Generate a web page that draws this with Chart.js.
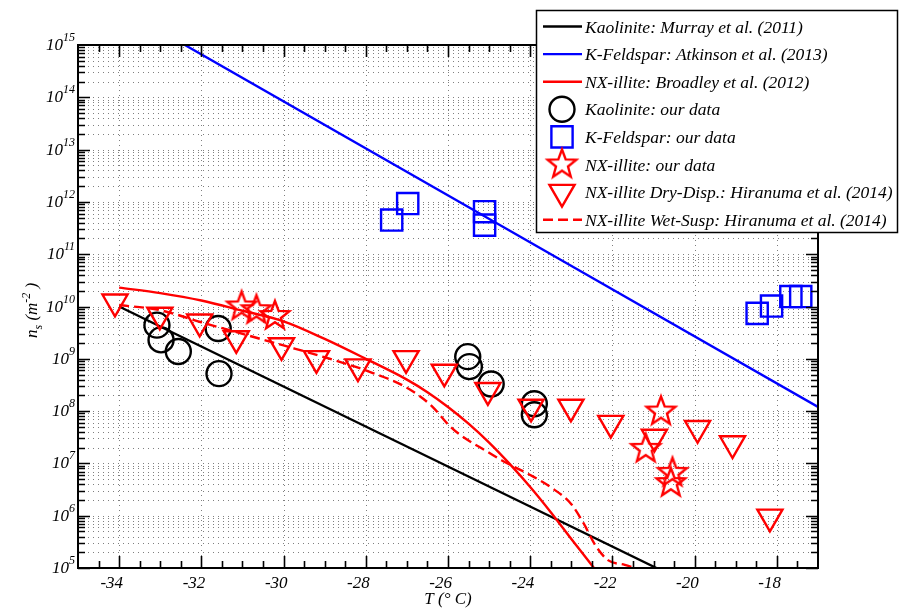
<!DOCTYPE html>
<html>
<head>
<meta charset="utf-8">
<script src="https://cdn.jsdelivr.net/npm/chart.js@4"></script>
<style>
html, body { margin: 0; padding: 0; background: #fff; }
#wrap { width: 899px; height: 608px; }
</style>
</head>
<body>
<div id="wrap"><canvas id="myChart" width="899" height="608"></canvas></div>
<script>
// axis ticks
const X_TICKS = [-34, -32, -30, -28, -26, -24, -22, -20, -18];
const Y_DECADES = [5, 6, 7, 8, 9, 10, 11, 12, 13, 14, 15];

// parameterisations (lines)
const KAO_LINE_T = [-34, -20.93];
const KAO_LINE_NS = [1e10, 1e5];
const KFS_LINE_T = [-32.4, -17];
const KFS_LINE_NS = [1e15, 1.2e8];
const BROADLEY_T = [-34, -33, -32, -31, -30, -29, -28, -27, -26.5, -26, -25.5, -25, -24.5, -24, -23.5, -23, -22.45];
const BROADLEY_NS = [2.3e10, 1.8e10, 1.3e10, 8.3e9, 5.2e9, 2.4e9, 1.0e9, 4.0e8, 2.3e8, 1.2e8, 5.75e7, 2.5e7, 9.8e6, 3.55e6, 1.17e6, 3.6e5, 1e5];
const WET_T = [-34, -33, -32, -31, -30, -29, -28, -27, -26.4, -26, -25.7, -25, -24.7, -24, -23.5, -23, -22.7, -22.4, -22.1, -21.7, -21.45];
const WET_NS = [1.07e10, 8.5e9, 5.0e9, 3.0e9, 1.8e9, 1.07e9, 6.0e8, 2.8e8, 1.26e8, 5.6e7, 3.5e7, 1.6e7, 1.15e7, 6.0e6, 3.5e6, 1.66e6, 7.1e5, 2.6e5, 1.4e5, 1.15e5, 1e5];

// our data
const KAO_T = [-33.08, -32.98, -32.56, -31.59, -31.57, -25.52, -25.48, -24.95, -23.9, -23.9];
const KAO_NS = [4.4e9, 2.3e9, 1.38e9, 3.8e9, 5.2e8, 1.1e9, 7.1e8, 3.3e8, 1.38e8, 8.5e7];
const KFS_T = [-27.37, -26.98, -25.11, -25.11, -18.48, -18.13, -17.66, -17.42];
const KFS_NS = [4.5e11, 9.3e11, 6.5e11, 3.6e11, 7.4e9, 1.02e10, 1.55e10, 1.55e10];
const NX_T = [-31.02, -30.66, -30.21, -20.82, -21.19, -20.54, -20.58];
const NX_NS = [1.0e10, 8.5e9, 6.6e9, 9.8e7, 1.9e7, 6.6e6, 4.2e6];
const DRY_T = [-34.1, -33.01, -32.04, -31.15, -30.05, -29.2, -28.19, -27.02, -26.09, -25.03, -23.98, -23.01, -22.04, -20.98, -19.93, -19.08, -18.17];
const DRY_NS = [1.23e10, 6.9e9, 5.1e9, 2.45e9, 1.8e9, 1.02e9, 7.1e8, 1.02e9, 5.6e8, 2.5e8, 1.2e8, 1.2e8, 5.9e7, 3.2e7, 4.7e7, 2.4e7, 9.5e5];

const LEGEND_LABELS = [
  "Kaolinite: Murray et al. (2011)",
  "K-Feldspar: Atkinson et al. (2013)",
  "NX-illite: Broadley et al. (2012)",
  "Kaolinite: our data",
  "K-Feldspar: our data",
  "NX-illite: our data",
  "NX-illite Dry-Disp.: Hiranuma et al. (2014)",
  "NX-illite Wet-Susp: Hiranuma et al. (2014)"
];

const FONT = '"Liberation Serif", "Times New Roman", serif';

function pts(xs, ys) {
  return xs.map((x, i) => ({ x: x, y: ys[i] }));
}

// 5-point star marker (pentagram)
function starImage(R, color, lw) {
  const s = Math.ceil(2 * R + 14);
  const c = document.createElement('canvas');
  c.width = s; c.height = s;
  const g = c.getContext('2d');
  g.strokeStyle = color;
  g.lineWidth = lw;
  g.beginPath();
  for (let k = 0; k < 10; k++) {
    const r = k % 2 ? R * 0.42 : R;
    const a = -Math.PI / 2 + k * Math.PI / 5;
    g.lineTo(s / 2 + r * Math.cos(a), s / 2 + r * Math.sin(a));
  }
  g.closePath();
  g.stroke();
  return c;
}
const STAR = starImage(15, '#ff0000', 2.4);

const lineSet = (label, xs, ys, color, dash) => ({
  label: label, data: pts(xs, ys), showLine: true, pointRadius: 0,
  borderColor: color, borderWidth: 2.4, borderDash: dash || [], fill: false,
  cubicInterpolationMode: 'monotone'
});
const markSet = (label, xs, ys, color, style, r, rot) => ({
  label: label, data: pts(xs, ys), showLine: false, pointStyle: style,
  pointRadius: r, pointRotation: rot || 0, borderColor: color, borderWidth: 2.4,
  backgroundColor: 'rgba(0,0,0,0)'
});

const datasets = [
  lineSet(LEGEND_LABELS[0], KAO_LINE_T, KAO_LINE_NS, '#000000'),
  lineSet(LEGEND_LABELS[1], KFS_LINE_T, KFS_LINE_NS, '#0000ff'),
  lineSet(LEGEND_LABELS[2], BROADLEY_T, BROADLEY_NS, '#ff0000'),
  markSet(LEGEND_LABELS[3], KAO_T, KAO_NS, '#000000', 'circle', 12.5),
  markSet(LEGEND_LABELS[4], KFS_T, KFS_NS, '#0000ff', 'rect', 15),
  markSet(LEGEND_LABELS[5], NX_T, NX_NS, '#ff0000', STAR, 15),
  markSet(LEGEND_LABELS[6], DRY_T, DRY_NS, '#ff0000', 'triangle', 14.5, 180),
  lineSet(LEGEND_LABELS[7], WET_T, WET_NS, '#ff0000', [10, 5])
];
// later datasets on top, like the original plot
datasets.forEach((d, i) => { d.order = datasets.length - i; });

const axesFrame = {
  id: 'axesFrame',
  beforeDatasetsDraw(chart) {
    const { ctx, chartArea: a, scales: { x, y } } = chart;
    ctx.save();
    ctx.strokeStyle = 'rgba(0,0,0,0.5)';
    ctx.lineWidth = 1;
    ctx.setLineDash([1, 4]);
    ctx.beginPath();
    for (let n = 5; n < 15; n++) {
      for (let k = 1; k < 10; k++) {
        const py = Math.round(y.getPixelForValue(k * Math.pow(10, n))) + 0.5;
        if (py > a.bottom - 1) continue;
        ctx.moveTo(a.left, py);
        ctx.lineTo(a.right, py);
      }
    }
    X_TICKS.forEach(v => {
      const px = Math.round(x.getPixelForValue(v)) + 0.5;
      ctx.moveTo(px, a.top);
      ctx.lineTo(px, a.bottom);
    });
    ctx.stroke();
    ctx.restore();
  },
  afterDatasetsDraw(chart) {
    const { ctx, chartArea: a, scales: { x, y } } = chart;
    ctx.save();
    ctx.strokeStyle = '#000';
    ctx.lineWidth = 1.6;
    ctx.setLineDash([]);
    ctx.beginPath();
    // x ticks, every 0.5 degree, inward on bottom and top
    for (let v = -34.5; v <= -17.25; v += 0.5) {
      const len = X_TICKS.includes(v) ? 12 : 7;
      const px = Math.round(x.getPixelForValue(v)) + 0.5;
      ctx.moveTo(px, a.bottom); ctx.lineTo(px, a.bottom - len);
      ctx.moveTo(px, a.top); ctx.lineTo(px, a.top + len);
    }
    // y ticks, decades and 2..9 minors, inward on left and right
    for (let n = 5; n < 15; n++) {
      for (let k = 1; k < 10; k++) {
        const len = k === 1 ? 12 : 7;
        const py = Math.round(y.getPixelForValue(k * Math.pow(10, n))) + 0.5;
        ctx.moveTo(a.left, py); ctx.lineTo(a.left + len, py);
        ctx.moveTo(a.right, py); ctx.lineTo(a.right - len, py);
      }
    }
    ctx.stroke();
    ctx.lineWidth = 2;
    ctx.strokeRect(a.left, a.top, a.right - a.left, a.bottom - a.top);

    // tick labels
    ctx.fillStyle = '#000';
    ctx.textBaseline = 'alphabetic';
    ctx.font = 'italic 17px ' + FONT;
    ctx.textAlign = 'right';
    X_TICKS.forEach(v => {
      ctx.fillText(String(v), x.getPixelForValue(v) + 4, a.bottom + 20);
    });
    Y_DECADES.forEach(n => {
      const py = y.getPixelForValue(Math.pow(10, n));
      ctx.font = 'italic 12px ' + FONT;
      ctx.textAlign = 'left';
      const we = ctx.measureText(String(n)).width;
      const ex = a.left - 3 - we;
      ctx.fillText(String(n), ex, py - 4);
      ctx.font = 'italic 17px ' + FONT;
      ctx.textAlign = 'right';
      ctx.fillText('10', ex, py + 5);
    });

    // x title
    ctx.font = 'italic 17px ' + FONT;
    ctx.textAlign = 'center';
    ctx.fillText('T (\u00B0 C)', (a.left + a.right) / 2, 604);

    // y title, rotated
    ctx.save();
    ctx.translate(37, 338);
    ctx.rotate(-Math.PI / 2);
    ctx.textAlign = 'left';
    let cx = 0;
    const part = (txt, size, dy) => {
      ctx.font = 'italic ' + size + 'px ' + FONT;
      ctx.fillText(txt, cx, dy);
      cx += ctx.measureText(txt).width;
    };
    part('n', 17, 0);
    part('s', 12, 5);
    part(' (m', 17, 0);
    part('-2', 12, -7);
    part(' )', 17, 0);
    ctx.restore();
    ctx.restore();
  },
  afterDraw(chart) {
    const ctx = chart.ctx;
    ctx.save();
    ctx.fillStyle = '#fff';
    ctx.fillRect(536, 10, 362, 223);
    ctx.strokeStyle = '#000';
    ctx.lineWidth = 1.5;
    ctx.strokeRect(536.5, 10.5, 361, 222);
    chart.data.datasets.forEach((d, i) => {
      const cy = 26.5 + i * 27.6;
      ctx.strokeStyle = d.borderColor;
      ctx.lineWidth = 2.4;
      if (d.showLine) {
        ctx.setLineDash(d.borderDash || []);
        ctx.beginPath();
        ctx.moveTo(543, cy); ctx.lineTo(582, cy);
        ctx.stroke();
        ctx.setLineDash([]);
      } else if (d.pointStyle === STAR) {
        ctx.drawImage(STAR, 562 - STAR.width / 2, cy - STAR.height / 2);
      } else {
        ctx.fillStyle = 'rgba(0,0,0,0)';
        Chart.helpers.drawPoint(ctx, {
          pointStyle: d.pointStyle, rotation: d.pointRotation || 0,
          radius: d.pointRadius, borderWidth: 2.4
        }, 562, cy);
      }
      ctx.fillStyle = '#000';
      ctx.font = 'italic 17.5px ' + FONT;
      ctx.textAlign = 'left';
      ctx.fillText(d.label, 585, cy + 6);
    });
    ctx.restore();
  }
};

const ctx = document.getElementById('myChart').getContext('2d');
const myChart = new Chart(ctx, {
  type: 'scatter',
  data: { datasets: datasets },
  options: {
    responsive: false,
    animation: false,
    devicePixelRatio: 1,
    events: [],
    layout: { padding: { left: 78, right: 81, top: 45, bottom: 40 } },
    plugins: { legend: { display: false }, tooltip: { enabled: false } },
    scales: {
      x: { type: 'linear', min: -35, max: -17, display: false },
      y: { type: 'logarithmic', min: 1e5, max: 1e15, display: false }
    }
  },
  plugins: [axesFrame]
});
</script>
</body>
</html>
